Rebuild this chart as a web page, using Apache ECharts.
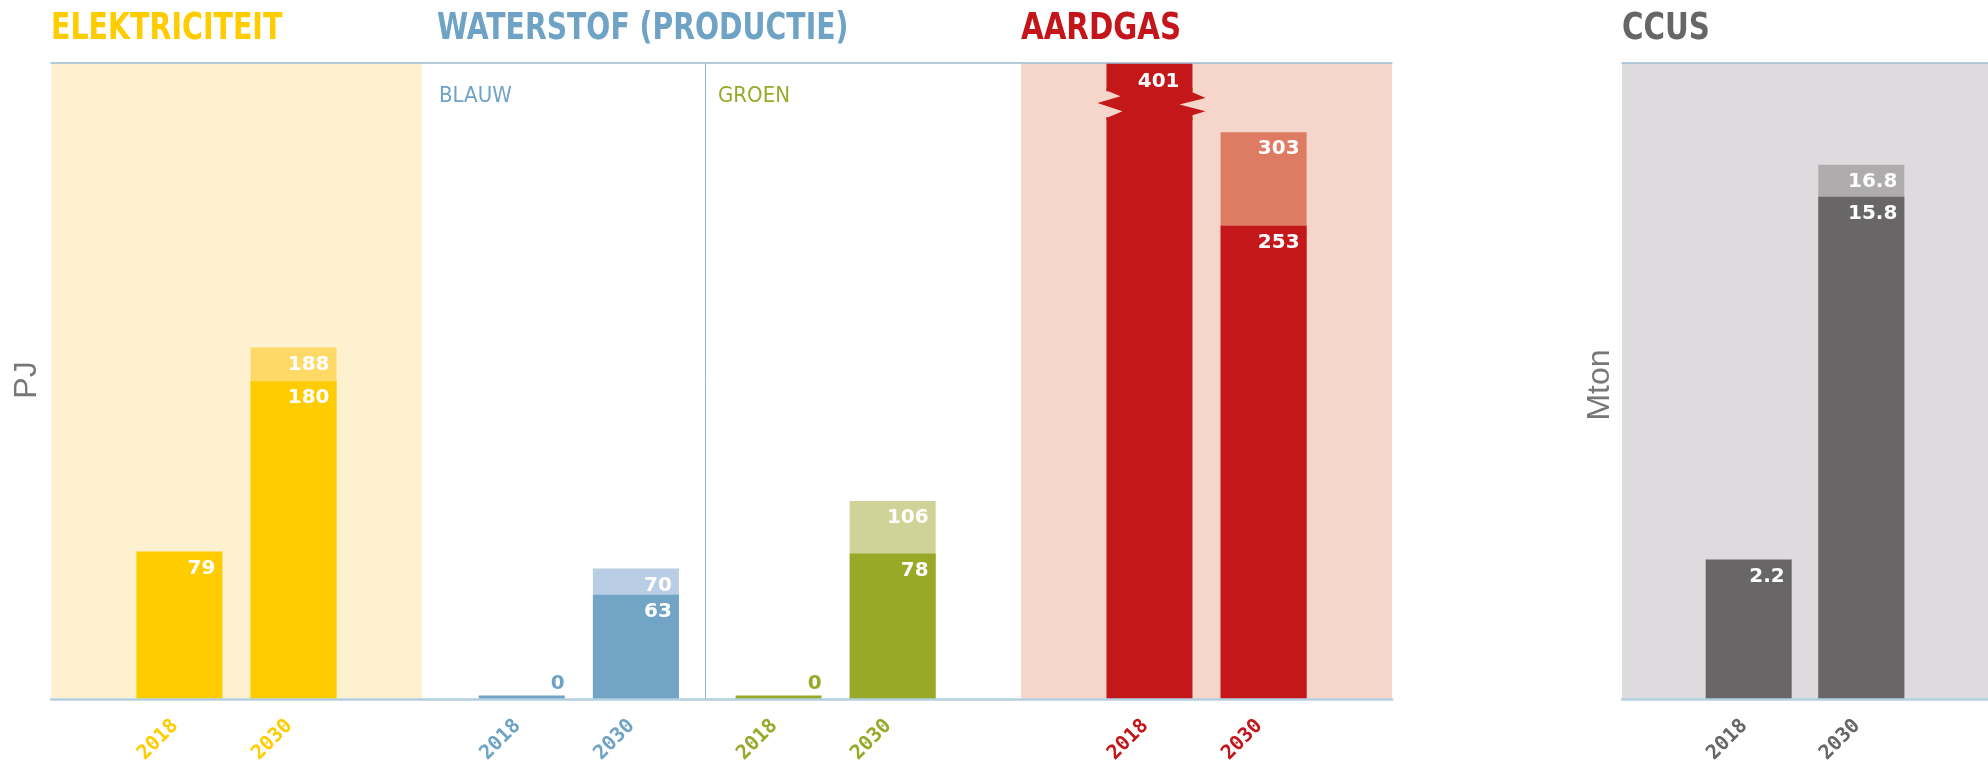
<!DOCTYPE html>
<html>
<head>
<meta charset="utf-8">
<script src="https://cdn.jsdelivr.net/npm/echarts@6/dist/echarts.min.js"></script>
<style>
html,body{margin:0;padding:0;background:#ffffff;}
#chart{width:1988px;height:766px;}
</style>
</head>
<body>
<div id="chart"></div>
<script>
// ---------------- DATA ----------------
const years = ['2018', '2030'];
const panelTitles = ['ELEKTRICITEIT', 'WATERSTOF (PRODUCTIE)', 'AARDGAS', 'CCUS'];
const hydrogenSubtitles = ['BLAUW', 'GROEN'];
const unitLeft = 'PJ';
const unitRight = 'Mton';

// bar heights as drawn, and the printed labels
const elektriciteitBase = [79, 170];
const elektriciteitTotal = [null, 188];
const elektriciteitBaseLabels = ['79', '180'];
const elektriciteitTotalLabels = [null, '188'];

const blauwBase = [0, 56];
const blauwTotal = [null, 70];
const blauwBaseLabels = ['0', '63'];
const blauwTotalLabels = [null, '70'];

const groenBase = [0, 78];
const groenTotal = [null, 106];
const groenBaseLabels = ['0', '78'];
const groenTotalLabels = [null, '106'];

const aardgasBase = [401, 253];
const aardgasTotal = [null, 303];
const aardgasBaseLabels = ['401', '253'];
const aardgasTotalLabels = [null, '303'];

const ccusBase = [4.4, 15.8];
const ccusTotal = [null, 16.8];
const ccusBaseLabels = ['2.2', '15.8'];
const ccusTotalLabels = [null, '16.8'];

// ---------------- LAYOUT / STYLE ----------------
const LEFT_AXIS_MAX = 340;
const RIGHT_AXIS_MAX = 20;
const BREAK_VALUE = 318;
const BAR_W = 86;
const LEFT_SLOTS = 47;
const RIGHT_SLOTS = 13;

const C = {
  elek:  {base: '#ffcc00', total: '#ffd966', band: '#fef1cf', text: '#ffcc00'},
  blauw: {base: '#71a4c5', total: '#b9cde4', text: '#6fa3c6'},
  groen: {base: '#98a928', total: '#cfd398', text: '#98a929'},
  gas:   {base: '#c4171a', total: '#de7b63', band: '#f6d6ca', text: '#c4161a'},
  ccus:  {base: '#686667', total: '#aeacad', band: '#dddbde', text: '#666666'}
};

const leftPanels = [
  {slots: [4, 8],   base: elektriciteitBase, total: elektriciteitTotal, bl: elektriciteitBaseLabels, tl: elektriciteitTotalLabels, col: C.elek, max: LEFT_AXIS_MAX},
  {slots: [16, 20], base: blauwBase, total: blauwTotal, bl: blauwBaseLabels, tl: blauwTotalLabels, col: C.blauw, max: LEFT_AXIS_MAX},
  {slots: [25, 29], base: groenBase, total: groenTotal, bl: groenBaseLabels, tl: groenTotalLabels, col: C.groen, max: LEFT_AXIS_MAX},
  {slots: [38, 42], base: aardgasBase, total: aardgasTotal, bl: aardgasBaseLabels, tl: aardgasTotalLabels, col: C.gas, max: LEFT_AXIS_MAX}
];
const rightPanels = [
  {slots: [4, 8], base: ccusBase, total: ccusTotal, bl: ccusBaseLabels, tl: ccusTotalLabels, col: C.ccus, max: RIGHT_AXIS_MAX}
];
const leftBands = [{from: 0, to: 12, color: C.elek.band}, {from: 34, to: 46, color: C.gas.band}];
const rightBands = [{from: 0, to: 12, color: C.ccus.band}];
const dividerSlots = [23];

const valueFont = {fontFamily: 'DejaVu Sans', fontWeight: 'bold', fontSize: 20};
function insideLabel(text, clipped) {
  return Object.assign({show: true, position: 'insideTopRight', distance: 7, formatter: text, color: '#ffffff',
                        offset: clipped ? [-6, 2] : [0, 0]}, valueFont);
}
function stubLabel(text, color) {
  return Object.assign({show: true, position: ['100%', 0], align: 'right', verticalAlign: 'bottom', offset: [0, -2], formatter: text, color: color}, valueFont);
}

function buildBars(nSlots, panels, which) {
  const arr = [];
  for (let i = 0; i < nSlots; i++) arr.push('-');
  panels.forEach(p => {
    p.slots.forEach((slot, i) => {
      const v = which === 'total' ? p.total[i] : p.base[i];
      if (v === null || v === undefined) return;
      const txt = which === 'total' ? p.tl[i] : p.bl[i];
      const lab = (v === 0) ? stubLabel(txt, p.col.text) : insideLabel(txt, v > p.max);
      arr[slot] = {value: v, itemStyle: {color: which === 'total' ? p.col.total : p.col.base}, label: lab};
    });
  });
  return arr;
}
function buildCategories(nSlots, panels) {
  const names = [], labels = [], owner = [];
  for (let i = 0; i < nSlots; i++) { names.push('s' + i); labels.push(''); owner.push(-1); }
  panels.forEach((p, pi) => p.slots.forEach((slot, i) => { labels[slot] = years[i]; owner[slot] = pi; }));
  return {names, labels, owner};
}
const leftCats = buildCategories(LEFT_SLOTS, leftPanels);
const rightCats = buildCategories(RIGHT_SLOTS, rightPanels);

function bottomAxis(gridIndex, cats, panels) {
  const rich = {};
  panels.forEach((p, pi) => {
    rich['p' + pi] = {color: p.col.text, fontFamily: 'DejaVu Sans Mono', fontWeight: 'bold', fontSize: 20};
  });
  return {
    type: 'category', gridIndex: gridIndex, data: cats.names, position: 'bottom', z: 10,
    axisLine: {show: true, onZero: false, lineStyle: {color: '#b3cfe0', width: 2.5}},
    axisTick: {show: false}, splitLine: {show: false},
    axisLabel: {
      interval: 0, rotate: 45, margin: 19, padding: [0, 6, 0, 0],
      formatter: function (v, idx) {
        const t = cats.labels[idx];
        return t ? '{p' + cats.owner[idx] + '|' + t + '}' : '';
      },
      rich: rich
    }
  };
}
function topAxis(gridIndex, cats) {
  return {
    type: 'category', gridIndex: gridIndex, data: cats.names, position: 'top', z: 10,
    axisLine: {show: true, onZero: false, lineStyle: {color: '#9dbcd4', width: 1.5}},
    axisTick: {show: false}, axisLabel: {show: false}, splitLine: {show: false}
  };
}
function bandSeries(xi, yi, bands) {
  return {
    type: 'custom', xAxisIndex: xi, yAxisIndex: yi, z: 1, silent: true,
    data: bands.map(b => [b.from, b.to]),
    renderItem: function (params, api) {
      const a = api.coord([api.value(0), 0]);
      const b = api.coord([api.value(1), 0]);
      const w = api.size([1, 0])[0];
      const cs = params.coordSys;
      return {type: 'rect', shape: {x: a[0] - w / 2, y: cs.y, width: b[0] - a[0] + w, height: cs.height},
              style: {fill: bands[params.dataIndex].color}};
    }
  };
}

const TITLE_FONT = 'bold 37px "DejaVu Sans Condensed", "DejaVu Sans", sans-serif';
const SUB_FONT = '22px "DejaVu Sans Condensed", "DejaVu Sans", sans-serif';
const UNIT_FONT = '32px "Liberation Sans", "DejaVu Sans", sans-serif';
function titleText(x, text, color, sx) {
  return {type: 'text', x: x, y: 29, z: 20, scaleX: sx, originX: 0,
          style: {text: text, fill: color, font: TITLE_FONT, align: 'left', verticalAlign: 'middle', textAlign: 'left', textVerticalAlign: 'middle'}};
}

const option = {
  animation: false,
  backgroundColor: '#ffffff',
  grid: [
    {left: 51, top: 63, width: 1341, height: 637},
    {left: 1622, top: 63, width: 1341 / LEFT_SLOTS * RIGHT_SLOTS, height: 637}
  ],
  xAxis: [
    bottomAxis(0, leftCats, leftPanels),
    topAxis(0, leftCats),
    bottomAxis(1, rightCats, rightPanels),
    topAxis(1, rightCats)
  ],
  yAxis: [
    {type: 'value', gridIndex: 0, min: 0, max: LEFT_AXIS_MAX, show: false},
    {type: 'value', gridIndex: 1, min: 0, max: RIGHT_AXIS_MAX, show: false}
  ],
  series: [
    bandSeries(0, 0, leftBands),
    {
      type: 'custom', xAxisIndex: 0, yAxisIndex: 0, z: 1, silent: true,
      data: dividerSlots.map(s => [s]),
      renderItem: function (params, api) {
        const p = api.coord([api.value(0), 0]);
        const w = api.size([1, 0])[0];
        const cs = params.coordSys;
        const x = Math.round(p[0] - w / 2) - 1.5;
        return {type: 'line', shape: {x1: x, y1: cs.y, x2: x, y2: cs.y + cs.height},
                style: {stroke: '#8fb5d3', lineWidth: 1}};
      }
    },
    {type: 'bar', xAxisIndex: 0, yAxisIndex: 0, barWidth: BAR_W, barGap: '-100%', z: 2,
     data: buildBars(LEFT_SLOTS, leftPanels, 'total')},
    {type: 'bar', xAxisIndex: 0, yAxisIndex: 0, barWidth: BAR_W, barGap: '-100%', barMinHeight: 4, z: 2,
     data: buildBars(LEFT_SLOTS, leftPanels, 'base')},
    {
      type: 'custom', xAxisIndex: 0, yAxisIndex: 0, z: 4, silent: true,
      data: [[leftPanels[3].slots[0], BREAK_VALUE]],
      renderItem: function (params, api) {
        const c = api.coord([api.value(0), api.value(1)]);
        const L = c[0] - BAR_W / 2, R = c[0] + BAR_W / 2, y = c[1];
        const pts = [
          [L, y - 16], [L, y - 13.6], [L + 14, y - 8], [L - 9, y - 1.3], [L + 16, y + 7], [L, y + 13.7], [L, y + 16],
          [R, y + 16], [R, y + 11], [R + 13, y + 7], [R - 13, y + 0.4], [R + 13, y - 6.3], [R, y - 12], [R, y - 16]
        ];
        return {type: 'group', children: [
          {type: 'rect', shape: {x: L - 12, y: y - 13, width: BAR_W + 27, height: 26}, style: {fill: C.gas.band}},
          {type: 'polygon', shape: {points: pts}, style: {fill: C.gas.base}}
        ]};
      }
    },
    bandSeries(2, 1, rightBands),
    {type: 'bar', xAxisIndex: 2, yAxisIndex: 1, barWidth: BAR_W, barGap: '-100%', z: 2,
     data: buildBars(RIGHT_SLOTS, rightPanels, 'total')},
    {type: 'bar', xAxisIndex: 2, yAxisIndex: 1, barWidth: BAR_W, barGap: '-100%', z: 2,
     data: buildBars(RIGHT_SLOTS, rightPanels, 'base')}
  ],
  graphic: [
    titleText(51, panelTitles[0], C.elek.text, 0.855),
    titleText(437, panelTitles[1], C.blauw.text, 0.85),
    titleText(1021, panelTitles[2], C.gas.text, 0.88),
    titleText(1622, panelTitles[3], C.ccus.text, 0.88),
    {type: 'text', x: 439, y: 96, z: 20, style: {text: hydrogenSubtitles[0], fill: C.blauw.text, font: SUB_FONT, align: 'left', verticalAlign: 'middle', textAlign: 'left', textVerticalAlign: 'middle'}},
    {type: 'text', x: 718, y: 96, z: 20, style: {text: hydrogenSubtitles[1], fill: C.groen.text, font: SUB_FONT, align: 'left', verticalAlign: 'middle', textAlign: 'left', textVerticalAlign: 'middle'}},
    {type: 'text', x: 27, y: 380, rotation: Math.PI / 2, z: 20, style: {text: unitLeft, fill: '#777777', font: UNIT_FONT, align: 'center', verticalAlign: 'middle', textAlign: 'center', textVerticalAlign: 'middle'}},
    {type: 'text', x: 1600, y: 385, rotation: Math.PI / 2, z: 20, style: {text: unitRight, fill: '#777777', font: UNIT_FONT, align: 'center', verticalAlign: 'middle', textAlign: 'center', textVerticalAlign: 'middle'}}
  ]
};

const chart = echarts.init(document.getElementById('chart'), null, {renderer: 'canvas'});
chart.setOption(option);
</script>
</body>
</html>
